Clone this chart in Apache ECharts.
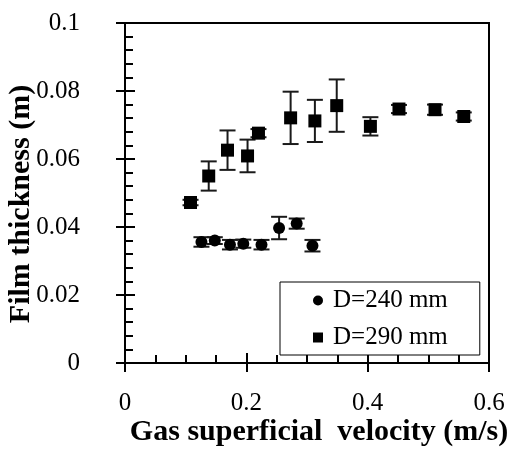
<!DOCTYPE html>
<html>
<head>
<meta charset="utf-8">
<script src="https://cdn.jsdelivr.net/npm/echarts@6/dist/echarts.min.js"></script>
<style>html,body{margin:0;padding:0;background:#fff}#c{width:519px;height:449px}</style>
</head>
<body>
<div id="c"></div>
<script>
// D = 240 mm (circles)
const x240 = [0.126, 0.148, 0.173, 0.195, 0.225, 0.254, 0.283, 0.309];
const y240 = [0.0356, 0.0360, 0.0348, 0.0351, 0.0348, 0.0397, 0.0410, 0.0345];
const e240 = [0.0014, 0.0010, 0.0014, 0.0012, 0.0014, 0.0033, 0.0015, 0.0017];
// D = 290 mm (squares)
const x290 = [0.108, 0.138, 0.169, 0.202, 0.220, 0.273, 0.313, 0.349, 0.4045, 0.4516, 0.511, 0.5584];
const y290 = [0.0472, 0.0550, 0.0626, 0.0609, 0.0676, 0.0721, 0.0712, 0.0757, 0.0696, 0.0747, 0.0745, 0.0725];
const e290 = [0.0008, 0.0043, 0.0058, 0.0048, 0.0012, 0.0077, 0.0062, 0.0077, 0.0027, 0.0012, 0.0015, 0.0012];
const xTicks = [0, 0.2, 0.4, 0.6];
const yTicks = [0, 0.02, 0.04, 0.06, 0.08, 0.1];
const seriesNames = ['D=240 mm', 'D=290 mm'];
const xTitle = 'Gas superficial  velocity (m/s)';
const yTitle = 'Film thickness (m)';

const FONT = '"Liberation Serif", "Times New Roman", serif';
const pts = (xs, ys) => xs.map((v, i) => [v, ys[i]]);
const errs = (xs, ys, es) => xs.map((v, i) => [v, ys[i] - es[i], ys[i] + es[i]]);

function errRender(params, api) {
  const x = api.value(0);
  const lo = api.coord([x, api.value(1)]);
  const hi = api.coord([x, api.value(2)]);
  const hw = 8;
  const st = { stroke: '#1a1a1a', lineWidth: 2 };
  return {
    type: 'group',
    children: [
      { type: 'line', shape: { x1: lo[0], y1: lo[1], x2: hi[0], y2: hi[1] }, style: st },
      { type: 'line', shape: { x1: lo[0] - hw, y1: lo[1], x2: lo[0] + hw, y2: lo[1] }, style: st },
      { type: 'line', shape: { x1: hi[0] - hw, y1: hi[1], x2: hi[0] + hw, y2: hi[1] }, style: st }
    ]
  };
}

const chart = echarts.init(document.getElementById('c'), null, { renderer: 'canvas' });
const axisLine = { show: true, lineStyle: { color: '#000', width: 2 } };
chart.setOption({
  animation: false,
  backgroundColor: '#fff',
  grid: { left: 125, top: 23, right: 30, bottom: 86, show: true, borderColor: '#000', borderWidth: 2, backgroundColor: 'transparent', containLabel: false, outerBoundsMode: 'none' },
  legend: {
    orient: 'vertical', left: 280, top: 282,
    padding: [6, 32, 5, 33], itemGap: 12, itemWidth: 10, itemHeight: 10,
    borderColor: '#000', borderWidth: 1, backgroundColor: '#fff',
    textStyle: { fontFamily: FONT, fontSize: 25, color: '#000', lineHeight: 23, padding: [0, 0, 0, 5] },
    data: [{ name: seriesNames[0], icon: 'circle' }, { name: seriesNames[1], icon: 'rect' }]
  },
  xAxis: [
    {
      type: 'value', min: xTicks[0], max: xTicks[xTicks.length - 1], interval: 0.2, position: 'bottom',
      axisLine: axisLine,
      axisTick: { show: true, inside: true, length: 10, lineStyle: { color: '#000', width: 2 } },
      minorTick: { show: true, splitNumber: 4, length: 8, lineStyle: { color: '#000', width: 2 } },
      splitLine: { show: false },
      axisLabel: { fontFamily: FONT, fontSize: 25, color: '#000', margin: 28, formatter: v => String(+v.toFixed(2)) },
      name: xTitle, nameLocation: 'middle', nameGap: 54, nameMoveOverlap: false,
      nameTextStyle: { fontFamily: FONT, fontSize: 30, fontWeight: 'bold', color: '#000', padding: [0, 0, 0, 24] }
    },
    {
      type: 'value', min: xTicks[0], max: xTicks[xTicks.length - 1], interval: 0.2, position: 'bottom',
      axisLine: { show: false },
      axisTick: { show: true, inside: false, length: 9, lineStyle: { color: '#000', width: 2 } },
      axisLabel: { show: false }, splitLine: { show: false }
    }
  ],
  yAxis: [
    {
      type: 'value', min: yTicks[0], max: yTicks[yTicks.length - 1], interval: 0.02, position: 'left',
      axisLine: axisLine,
      axisTick: { show: true, inside: true, length: 10, lineStyle: { color: '#000', width: 2 } },
      minorTick: { show: true, splitNumber: 5, length: 8, lineStyle: { color: '#000', width: 2 } },
      splitLine: { show: false },
      axisLabel: { fontFamily: FONT, fontSize: 25, color: '#000', margin: 45, formatter: v => String(+v.toFixed(2)) },
      name: yTitle, nameLocation: 'middle', nameGap: 89, nameRotate: 90, nameMoveOverlap: false,
      nameTextStyle: { fontFamily: FONT, fontSize: 30, fontWeight: 'bold', color: '#000', padding: [0, 22, 0, 0] }
    },
    {
      type: 'value', min: yTicks[0], max: yTicks[yTicks.length - 1], interval: 0.02, position: 'left',
      axisLine: { show: false },
      axisTick: { show: true, inside: false, length: 9, lineStyle: { color: '#000', width: 2 } },
      axisLabel: { show: false }, splitLine: { show: false }
    }
  ],
  series: [
    { type: 'custom', name: 'err240', renderItem: errRender, data: errs(x240, y240, e240), z: 2, silent: true },
    { type: 'custom', name: 'err290', renderItem: errRender, data: errs(x290, y290, e290), z: 2, silent: true },
    { type: 'scatter', name: seriesNames[0], symbol: 'circle', symbolSize: 12, itemStyle: { color: '#000', opacity: 1 }, data: pts(x240, y240), z: 3 },
    { type: 'scatter', name: seriesNames[1], symbol: 'rect', symbolSize: 13, itemStyle: { color: '#000', opacity: 1 }, data: pts(x290, y290), z: 3 }
  ]
});
</script>
</body>
</html>
